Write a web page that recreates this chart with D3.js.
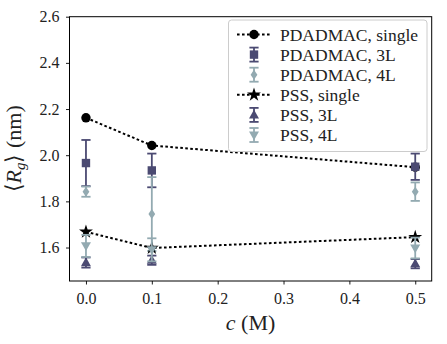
<!DOCTYPE html>
<html><head><meta charset="utf-8">
<script src="https://cdn.jsdelivr.net/npm/d3@7"></script>
<style>body{margin:0;background:#fff}svg{display:block}</style>
</head><body>
<script>
const conc = [0, 0.1, 0.5];
const pdadmacSingle = [2.162, 2.042, 1.948];
const pdadmac3L = [1.966, 1.934, 1.950];
const pdadmac3LErr = [0.100, 0.073, 0.057];
const pdadmac4L = [1.842, 1.745, 1.842];
const pdadmac4LErr = [0.022, 0.160, 0.040];
const pssSingle = [1.668, 1.598, 1.645];
const pss3L = [1.535, 1.545, 1.530];
const pss3LErr = [0.022, 0.020, 0.020];
const pss4L = [1.607, 1.590, 1.598];
const pss4LErr = [0.048, 0.050, 0.045];
const xTicks = [0, 0.1, 0.2, 0.3, 0.4, 0.5];
const yTicks = [1.6, 1.8, 2.0, 2.2, 2.4, 2.6];
const legendLabels = ["PDADMAC, single","PDADMAC, 3L","PDADMAC, 4L","PSS, single","PSS, 3L","PSS, 4L"];

const W = 447, H = 344;
const DARK = "#4b4a72", LIGHT = "#93aab1";
const FONT = "Liberation Serif";
const svg = d3.select("body").append("svg").attr("width", W).attr("height", H);
const L = 69.5, R = 431.7, T = 16.7, B = 281;
const x = d3.scaleLinear().domain([-0.025, 0.525]).range([L, R]);
const y = d3.scaleLinear().domain([1.455, 2.6]).range([B, T]);

const sym = {
  circle: d3.symbol().type(d3.symbolCircle).size(Math.PI*4.7*4.7),
  square: d3.symbol().type(d3.symbolSquare).size(8.4*8.4),
  star: d3.symbol().type(d3.symbolStar).size(60),
};
function diamondPath(){ return "M0,-5L3.4,0L0,5L-3.4,0Z"; }
function triUp(){ return "M0,-5.2L5,3.6L-5,3.6Z"; }
function triDown(){ return "M0,5.2L5,-3.6L-5,-3.6Z"; }

const plot = svg.append("g");
function errorbars(g, xs, ys, es, color){
  xs.forEach((c,i)=>{
    const cx = x(c);
    g.append("line").attr("x1",cx).attr("x2",cx).attr("y1",y(ys[i]-es[i])).attr("y2",y(ys[i]+es[i]))
      .attr("stroke",color).attr("stroke-width",1.8);
    [ys[i]-es[i], ys[i]+es[i]].forEach(v=>{
      g.append("line").attr("x1",cx-4.6).attr("x2",cx+4.6).attr("y1",y(v)).attr("y2",y(v))
        .attr("stroke",color).attr("stroke-width",1.8);
    });
  });
}
function markers(g, xs, ys, pathFn, color){
  xs.forEach((c,i)=>{
    g.append("path").attr("d", pathFn()).attr("transform",`translate(${x(c)},${y(ys[i])})`).attr("fill",color);
  });
}
function dotted(g, xs, ys){
  g.append("path").datum(xs.map((c,i)=>[c,ys[i]]))
    .attr("d", d3.line().x(d=>x(d[0])).y(d=>y(d[1])))
    .attr("fill","none").attr("stroke","#000").attr("stroke-width",2).attr("stroke-dasharray","2.6,2.4");
}

dotted(plot, conc, pdadmacSingle);
markers(plot, conc, pdadmacSingle, sym.circle, "#000");
errorbars(plot, conc, pdadmac3L, pdadmac3LErr, DARK);
markers(plot, conc, pdadmac3L, sym.square, DARK);
errorbars(plot, conc, pdadmac4L, pdadmac4LErr, LIGHT);
markers(plot, conc, pdadmac4L, diamondPath, LIGHT);
dotted(plot, conc, pssSingle);
markers(plot, conc, pssSingle, sym.star, "#000");
errorbars(plot, conc, pss3L, pss3LErr, DARK);
markers(plot, conc, pss3L, triUp, DARK);
errorbars(plot, conc, pss4L, pss4LErr, LIGHT);
markers(plot, conc, pss4L, triDown, LIGHT);

const xAxis = svg.append("g").attr("transform",`translate(0,${B})`)
  .call(d3.axisBottom(x).tickValues(xTicks).tickFormat(d3.format(".1f")).tickSize(3.5).tickPadding(4));
const yAxis = svg.append("g").attr("transform",`translate(${L},0)`)
  .call(d3.axisLeft(y).tickValues(yTicks).tickFormat(d3.format(".1f")).tickSize(3.5).tickPadding(6.5));
[xAxis,yAxis].forEach(a=>{
  a.attr("font-family",FONT);
  a.select(".domain").remove();
  a.selectAll("line").attr("stroke","#000").attr("stroke-width",0.9);
  a.selectAll("text").attr("font-family",FONT).attr("font-size",16).attr("fill","#222");
});
xAxis.selectAll("text").attr("dy","0.95em");
svg.append("rect").attr("x",L).attr("y",T).attr("width",R-L).attr("height",B-T)
  .attr("fill","none").attr("stroke","#000").attr("stroke-width",1);

const xl = svg.append("text").attr("x",(L+R)/2).attr("y",330).attr("text-anchor","middle")
  .attr("font-family",FONT).attr("font-size",22).attr("fill","#222");
xl.append("tspan").attr("font-style","italic").text("c");
xl.append("tspan").text(" (M)");
const yl = svg.append("text").attr("transform",`translate(21,${(T+B)/2}) rotate(-90)`).attr("text-anchor","middle")
  .attr("font-family",FONT).attr("font-size",22).attr("fill","#222");
yl.append("tspan").text("⟨");
yl.append("tspan").attr("font-style","italic").text("R");
yl.append("tspan").attr("font-style","italic").attr("font-size",15).attr("dy",4).text("g");
yl.append("tspan").attr("dy",-4).text("⟩ (nm)");

const lg = svg.append("g");
lg.append("rect").attr("x",228.5).attr("y",20).attr("width",198.5).attr("height",131.5).attr("rx",3)
  .attr("fill","#fff").attr("fill-opacity",0.85).attr("stroke","#ccc").attr("stroke-width",1);
const hx = 254, tx = 280;
const rowY = legendLabels.map((_,i)=>34.5 + i*20.1);
const legSpecs = [
  {type:"line", fn:sym.circle, color:"#000"},
  {type:"err", fn:sym.square, color:DARK},
  {type:"err", fn:diamondPath, color:LIGHT},
  {type:"line", fn:sym.star, color:"#000"},
  {type:"err", fn:triUp, color:DARK},
  {type:"err", fn:triDown, color:LIGHT},
];
legSpecs.forEach((s,i)=>{
  const cy = rowY[i];
  if(s.type==="line"){
    lg.append("line").attr("x1",hx-17).attr("x2",hx+17).attr("y1",cy).attr("y2",cy)
      .attr("stroke","#000").attr("stroke-width",2).attr("stroke-dasharray","2.6,2.4");
  } else {
    lg.append("line").attr("x1",hx).attr("x2",hx).attr("y1",cy-7).attr("y2",cy+7).attr("stroke",s.color).attr("stroke-width",1.8);
    [cy-7,cy+7].forEach(v=>lg.append("line").attr("x1",hx-4.6).attr("x2",hx+4.6).attr("y1",v).attr("y2",v).attr("stroke",s.color).attr("stroke-width",1.8));
  }
  lg.append("path").attr("d",s.fn()).attr("transform",`translate(${hx},${cy})`).attr("fill",s.color);
  lg.append("text").attr("x",tx).attr("y",cy).attr("dy","0.35em").attr("font-family",FONT).attr("font-size",17.5)
    .attr("fill","#222").text(legendLabels[i]);
});
</script>
</body></html>
